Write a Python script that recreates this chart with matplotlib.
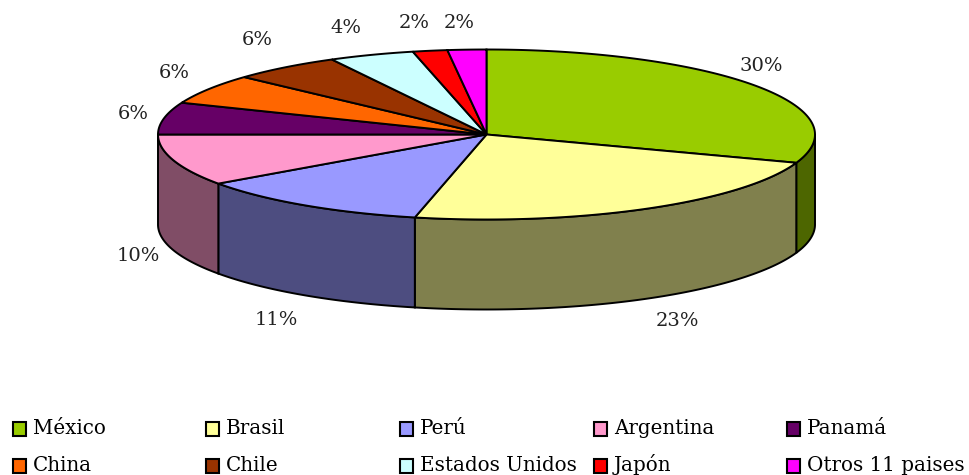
import matplotlib
matplotlib.use('Agg')
import matplotlib.pyplot as plt
import numpy as np
from matplotlib.patches import Polygon, Rectangle

# Data
paises = ['México', 'Brasil', 'Perú', 'Argentina', 'Panamá',
          'China', 'Chile', 'Estados Unidos', 'Japón', 'Otros 11 paises']
valores = [30.4, 23.1, 11.7, 9.8, 6.1, 5.7, 5.4, 4.2, 1.7, 1.9]
etiquetas = ['30%', '23%', '11%', '10%', '6%', '6%', '6%', '4%', '2%', '2%']
colores = ['#99CC00', '#FFFF99', '#9999FF', '#FF99CC', '#660066',
           '#FF6600', '#993300', '#CCFFFF', '#FF0000', '#FF00FF']

# Label positions in pixels
etiq_x = [761, 677, 276, 138, 133, 174, 257, 346, 414, 459]
etiq_y = [66, 321, 320, 256, 114, 73, 40, 28, 23, 23]

# Pie geometry in pixels
cx, cy = 486.5, 134.5
rx, ry = 328.5, 85
prof = 90

fuente = 'DejaVu Serif'
lw = 1.4


def borde(a, b):
    t = np.radians(np.linspace(a, b, 200))
    return cx + rx * np.sin(t), cy - ry * np.cos(t)


def oscuro(c):
    r, g, b = matplotlib.colors.to_rgb(c)
    return (r * 0.5, g * 0.5, b * 0.5)


fig = plt.figure(figsize=(9.7, 4.75), dpi=100)
ax = fig.add_axes([0, 0, 1, 1])
ax.set_xlim(0, 970)
ax.set_ylim(475, 0)
ax.axis('off')

limites = np.concatenate([[0], np.cumsum(valores)]) * 3.6

# Side wall, only the front half is visible
for i, c in enumerate(colores):
    a = max(limites[i], 90)
    b = min(limites[i + 1], 270)
    if a >= b:
        continue
    x, y = borde(a, b)
    px = np.concatenate([x, x[::-1]])
    py = np.concatenate([y, y[::-1] + prof])
    ax.add_patch(Polygon(np.column_stack([px, py]), facecolor=oscuro(c),
                         edgecolor='black', linewidth=lw, zorder=2))

# Top face
for i, c in enumerate(colores):
    x, y = borde(limites[i], limites[i + 1])
    px = np.concatenate([[cx], x])
    py = np.concatenate([[cy], y])
    ax.add_patch(Polygon(np.column_stack([px, py]), facecolor=c,
                         edgecolor='black', linewidth=lw, zorder=3))

# Percent labels
for t, x, y in zip(etiquetas, etiq_x, etiq_y):
    ax.text(x, y, t, ha='center', va='center', family=fuente, fontsize=14,
            color='#222222')

# Legend, two rows of five
col_x = [13, 206, 400, 594, 787]
fila_y = [429, 466]
for i, (p, c) in enumerate(zip(paises, colores)):
    x = col_x[i % 5]
    y = fila_y[i // 5]
    ax.add_patch(Rectangle((x, y - 7), 13, 14, facecolor=c, edgecolor='black',
                           linewidth=1.5))
    ax.text(x + 20, y + 5, p, ha='left', va='baseline', family=fuente,
            fontsize=14.3, color='black')

fig.savefig('out.png', dpi=100)
